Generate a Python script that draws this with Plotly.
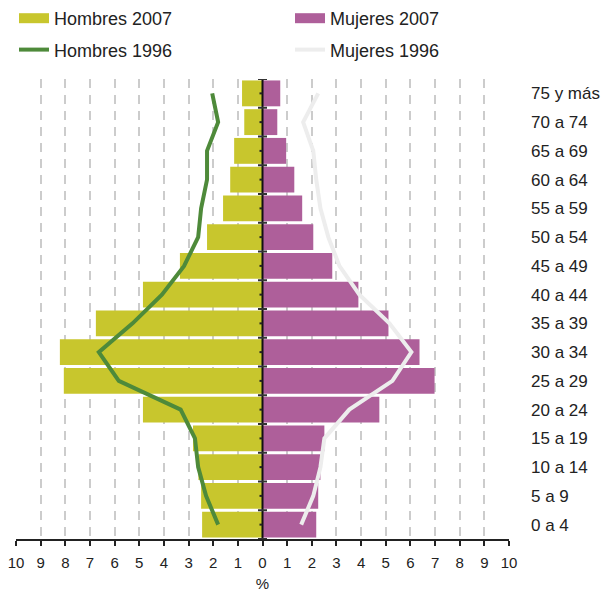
import plotly.graph_objects as go

categories = ["0 a 4", "5 a 9", "10 a 14", "15 a 19", "20 a 24", "25 a 29", "30 a 34",
              "35 a 39", "40 a 44", "45 a 49", "50 a 54", "55 a 59", "60 a 64",
              "65 a 69", "70 a 74", "75 y más"]
hombres_2007 = [2.45, 2.49, 2.60, 2.82, 4.85, 8.06, 8.22, 6.76, 4.85, 3.35, 2.25, 1.60, 1.31, 1.15, 0.74, 0.83]
mujeres_2007 = [2.18, 2.26, 2.35, 2.51, 4.74, 6.98, 6.37, 5.11, 3.89, 2.83, 2.06, 1.61, 1.29, 0.96, 0.60, 0.72]
hombres_1996 = [1.80, 2.29, 2.61, 2.74, 3.32, 5.83, 6.64, 5.27, 4.08, 3.18, 2.61, 2.49, 2.25, 2.25, 1.80, 2.04]
mujeres_1996 = [1.57, 2.06, 2.35, 2.51, 3.52, 5.27, 6.04, 5.15, 3.93, 3.12, 2.67, 2.35, 2.18, 2.06, 1.65, 2.26]
x_ticks = list(range(-10, 11))
x_ticktext = [str(abs(v)) for v in x_ticks]

C_H07 = "#C8C62D"
C_M07 = "#AE5F9A"
C_H96 = "#4E8A3A"
C_M96 = "#EDEDED"
FONT = "Liberation Sans, Arial, sans-serif"
TXT = "#222222"
W, H = 603, 592

fig = go.Figure()
fig.add_trace(go.Bar(y=categories, x=[-v for v in hombres_2007], orientation="h",
                     marker=dict(color=C_H07, line=dict(width=0)), showlegend=False, name="Hombres 2007"))
fig.add_trace(go.Bar(y=categories, x=mujeres_2007, orientation="h",
                     marker=dict(color=C_M07, line=dict(width=0)), showlegend=False, name="Mujeres 2007"))
fig.add_trace(go.Scatter(y=categories, x=[-v for v in hombres_1996], mode="lines",
                         line=dict(color=C_H96, width=4), showlegend=False, name="Hombres 1996"))
fig.add_trace(go.Scatter(y=categories, x=mujeres_1996, mode="lines",
                         line=dict(color=C_M96, width=4), showlegend=False, name="Mujeres 1996"))

# legend entries
fig.add_trace(go.Scatter(x=[None], y=[None], mode="lines", line=dict(color=C_H07, width=10),
                         name="Hombres 2007", legend="legend", legendgroup="a"))
fig.add_trace(go.Scatter(x=[None], y=[None], mode="lines", line=dict(color=C_H96, width=4),
                         name="Hombres 1996", legend="legend", legendgroup="b"))
fig.add_trace(go.Scatter(x=[None], y=[None], mode="lines", line=dict(color=C_M07, width=10),
                         name="Mujeres 2007", legend="legend2", legendgroup="c"))
fig.add_trace(go.Scatter(x=[None], y=[None], mode="lines", line=dict(color=C_M96, width=4),
                         name="Mujeres 1996", legend="legend2", legendgroup="d"))

# central axis with ticks
fig.add_shape(type="line", xref="x", yref="y", x0=0, x1=0, y0=-0.5, y1=len(categories) - 0.5,
              line=dict(color="#111111", width=2), layer="above")
for i in range(len(categories) + 1):
    fig.add_shape(type="line", xref="x", yref="y", xsizemode="pixel", xanchor=0,
                  x0=-4.5, x1=4.5, y0=i - 0.5, y1=i - 0.5,
                  line=dict(color="#333333", width=2), layer="above")
for i in range(len(categories)):
    fig.add_shape(type="line", xref="x", yref="y", xsizemode="pixel", xanchor=0,
                  x0=-3, x1=0, y0=i, y1=i,
                  line=dict(color="#222222", width=2), layer="above")

leg_common = dict(orientation="v", font=dict(size=18, family=FONT, color=TXT),
                  traceorder="grouped", tracegroupgap=5, bgcolor="rgba(0,0,0,0)",
                  xref="container", yref="container", xanchor="left", yanchor="top")

fig.update_layout(
    width=W, height=H,
    margin=dict(l=16, r=94, t=79, b=53, autoexpand=False),
    paper_bgcolor="white", plot_bgcolor="white",
    font=dict(family=FONT, color=TXT),
    barmode="overlay", bargap=0.1,
    legend=dict(x=14 / W, y=1.0, **leg_common),
    legend2=dict(x=290 / W, y=1.0, **leg_common),
    xaxis=dict(range=[-10, 10], tickvals=x_ticks, ticktext=x_ticktext, automargin=False,
               showgrid=True, gridcolor="#CCCCCC", gridwidth=1.5, griddash="9px,7px",
               zeroline=False, showline=True, linecolor="#222222", linewidth=2,
               ticks="outside", ticklen=5, tickwidth=1.5, tickcolor="#222222",
               ticklabelstandoff=4,
               tickfont=dict(size=15, family=FONT, color=TXT),
               title=dict(text="%", font=dict(size=15, family=FONT, color=TXT), standoff=11),
               fixedrange=True),
    yaxis=dict(type="category", categoryorder="array", categoryarray=categories,
               range=[-0.5, len(categories) - 0.5], side="right", automargin=False,
               showgrid=False, zeroline=False, showline=False, ticks="",
               ticklabelstandoff=21,
               tickfont=dict(size=17, family=FONT, color=TXT), fixedrange=True),
)

fig.write_html("out.html", config={"displayModeBar": False},
               post_script="document.body.style.margin='0';document.body.style.padding='0';"
                           "window.dispatchEvent(new Event('resize'));")
